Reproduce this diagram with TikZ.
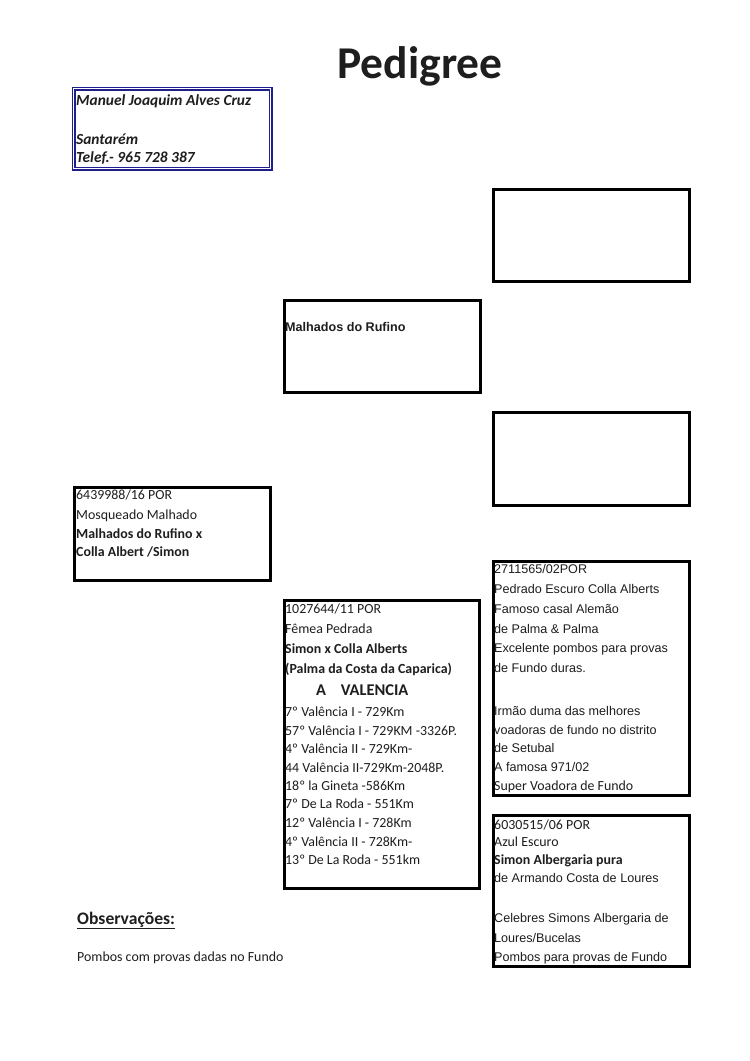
\documentclass[tikz,border=0pt]{standalone}
\usepackage{fontspec}
\setmainfont{Carlito}
\newfontfamily\arialf{Liberation Sans}
\definecolor{navy}{RGB}{30,30,140}
\definecolor{ink}{RGB}{30,30,30}
\begin{document}
\begin{tikzpicture}[x=1pt,y=-1pt,
  pbox/.style={draw=black, line width=3.1pt, anchor=north west, inner sep=0pt},
  obox/.style={draw=navy, double=white, double distance=1.6pt, line width=1.2pt, anchor=north west, inner sep=0pt},
  cal/.style={font=\fontsize{13.9}{16}\selectfont, anchor=base west, inner sep=0pt, text=ink},
  calb/.style={cal, font=\fontsize{13.9}{16}\selectfont\bfseries},
  ari/.style={font=\arialf\fontsize{12.6}{15}\selectfont, anchor=base west, inner sep=0pt, text=ink},
  arib/.style={ari, font=\arialf\fontsize{12.6}{15}\selectfont\bfseries},
  own/.style={font=\fontsize{15.4}{17}\selectfont\bfseries\itshape, anchor=base west, inner sep=0pt, text=ink}]
\useasboundingbox[fill=white] (0,0) rectangle (750,1061);

% title
\node[font=\fontsize{45.5}{50}\selectfont\bfseries, text=ink, anchor=base, inner sep=0pt] (title) at (420,78) {Pedigree};

% boxes
\node[obox, minimum width=197pt, minimum height=80pt] (owner) at (73,88) {};
\node[pbox, minimum width=196pt, minimum height=92pt] (bA) at (491.5,188) {};
\node[pbox, minimum width=196pt, minimum height=92pt] (bB) at (282.5,299) {};
\node[pbox, minimum width=196pt, minimum height=93pt] (bC) at (491.5,411) {};
\node[pbox, minimum width=196pt, minimum height=93pt] (bD) at (73,486) {};
\node[pbox, minimum width=195pt, minimum height=288pt] (bE) at (283,599) {};
\node[pbox, minimum width=196pt, minimum height=234pt] (bF) at (491.5,560) {};
\node[pbox, minimum width=196pt, minimum height=151pt] (bG) at (491.5,814) {};

% owner text
\node[own] (o1) at (76,105) {Manuel Joaquim Alves Cruz};
\node[own] (o2) at (76,144) {Santarém};
\node[own] (o3) at (76,162) {Telef.- 965 728 387};

% box B
\node[arib] (b1) at (285,331.5) {Malhados do Rufino};

% box D
\node[cal] (d1) at (76,499) {6439988/16 POR};
\node[cal] (d2) at (76,519) {Mosqueado Malhado};
\node[calb] (d3) at (76,538) {Malhados do Rufino x};
\node[calb] (d4) at (76,556) {Colla Albert /Simon};

% box E
\node[cal] (e1) at (285,613) {1027644/11 POR};
\node[cal] (e2) at (285,633) {Fêmea Pedrada};
\node[calb] (e3) at (285,653) {Simon x Colla Alberts};
\node[calb] (e4) at (285,673) {(Palma da Costa da Caparica)};
\node[calb, font=\fontsize{16.4}{18}\selectfont\bfseries] (e5) at (316,695) {A\hspace{0.9em}VALENCIA};
\node[cal] (e6) at (285,716) {7º Valência I - 729Km};
\node[cal] (e7) at (285,735) {57º Valência I - 729KM -3326P.};
\node[cal] (e8) at (285,753) {4º Valência II - 729Km-};
\node[cal] (e9) at (285,772) {44 Valência II-729Km-2048P.};
\node[cal] (e10) at (285,790) {18º la Gineta -586Km};
\node[cal] (e11) at (285,808) {7º De La Roda - 551Km};
\node[cal] (e12) at (285,827) {12º Valência I - 728Km};
\node[cal] (e13) at (285,846) {4º Valência II - 728Km-};
\node[cal] (e14) at (285,864) {13º De La Roda - 551km};

% box F
\node[ari] (f1) at (494,573.5) {2711565/02POR};
\node[ari] (f2) at (494,593.5) {Pedrado Escuro Colla Alberts};
\node[ari] (f3) at (494,613.5) {Famoso casal Alemão};
\node[ari] (f4) at (494,633.5) {de Palma \& Palma};
\node[ari] (f5) at (494,652.5) {Excelente pombos para provas};
\node[ari] (f6) at (494,672.5) {de Fundo duras.};
\node[ari] (f7) at (494,715.5) {Irmão duma das melhores};
\node[ari] (f8) at (494,734.5) {voadoras de fundo no distrito};
\node[ari] (f9) at (494,752.5) {de Setubal};
\node[ari] (f10) at (494,771.5) {A famosa 971/02};
\node[cal] (f11) at (494,790) {Super Voadora de Fundo};

% box G
\node[cal] (g1) at (494,829) {6030515/06 POR};
\node[cal] (g2) at (494,846) {Azul Escuro};
\node[calb] (g3) at (494,864) {Simon Albergaria pura};
\node[ari] (g4) at (494,882.5) {de Armando Costa de Loures};
\node[ari] (g5) at (494,922.5) {Celebres Simons Albergaria de};
\node[ari] (g6) at (494,942.5) {Loures/Bucelas};
\node[ari] (g7) at (494,961.5) {Pombos para provas de Fundo};

% observations
\node[calb, font=\fontsize{17.6}{20}\selectfont\bfseries] (obs) at (77,924) {\underline{Observações:}};
\node[cal] (obs2) at (77,961) {Pombos com provas dadas no Fundo};
\end{tikzpicture}
\end{document}
